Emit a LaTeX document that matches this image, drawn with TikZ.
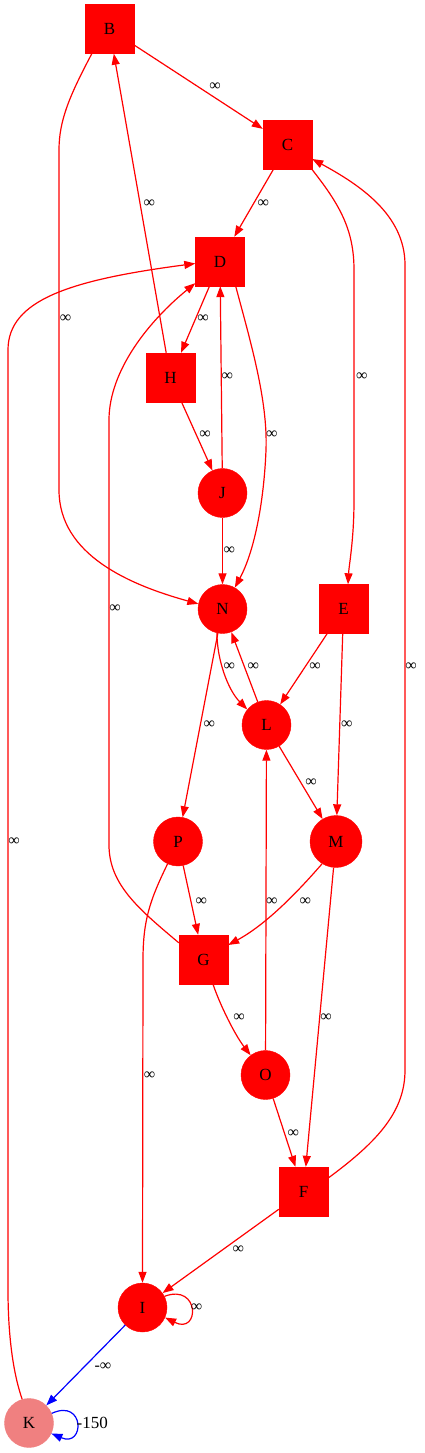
\documentclass[tikz,border=0pt]{standalone}
\usepackage{fontspec}
\setmainfont{Liberation Serif}
\usetikzlibrary{arrows.meta}
\definecolor{lcoral}{RGB}{240,128,128}
\begin{document}
\begin{tikzpicture}[x=1pt,y=-1pt,
  nfont/.style={font=\fontsize{17}{17}\selectfont},
  sq/.style={rectangle,draw=red,fill=red,minimum size=49pt,inner sep=0pt,nfont},
  circ/.style={circle,draw=red,fill=red,minimum size=49pt,inner sep=0pt,nfont},
  conn/.style={draw=red,line width=1.2pt,-{Triangle[length=11pt,width=8pt]}},
  bconn/.style={conn,draw=blue},
  lbl/.style={inner sep=0pt,font=\fontsize{16}{16}\selectfont}]
\useasboundingbox (0,0) rectangle (424,1453);

% nodes
\node[sq]   (B) at (109.5,29) {B};
\node[sq]   (C) at (287.5,145) {C};
\node[sq]   (D) at (220,261.5) {D};
\node[sq]   (H) at (170.5,377.5) {H};
\node[circ] (J) at (222.5,493) {J};
\node[circ] (N) at (222.5,609) {N};
\node[sq]   (E) at (343.5,609) {E};
\node[circ] (L) at (266.5,725) {L};
\node[circ] (P) at (178,841.5) {P};
\node[circ,minimum size=52pt] (M) at (336,841.5) {M};
\node[sq]   (G) at (203.5,959.5) {G};
\node[circ] (O) at (265.5,1075) {O};
\node[sq]   (F) at (303.5,1191.5) {F};
\node[circ] (I) at (142.5,1307.5) {I};
\node[circ,draw=lcoral,fill=lcoral] (K) at (29,1423) {K};

% straight connectors
\draw[conn] (B) -- (C);
\draw[conn] (H) -- (B);
\draw[conn] (C) -- (D);
\draw[conn] (D) -- (H);
\draw[conn] (J) -- (D);
\draw[conn] (H) -- (J);
\draw[conn] (J) -- (N);
\draw[conn] (L) -- (N);
\draw[conn] (E) -- (L);
\draw[conn] (E) -- (M);
\draw[conn] (N) -- (P);
\draw[conn] (L) -- (M);
\draw[conn] (P) -- (G);
\draw[conn] (O) -- (L);
\draw[conn] (M) -- (F);
\draw[conn] (O) -- (F);
\draw[conn] (F) -- (I);
\draw[bconn] (I) -- (K);

% curved connectors
\draw[conn] ([xshift=7pt]B.south west) .. controls (70,95) and (59,120) .. (59,150)
  -- (59,490) .. controls (59,555) and (130,585) .. (N.168);
\draw[conn] (C.south east) .. controls (340,205) and (354,230) .. (354,270)
  -- (354,500) .. controls (354,540) and (349,565) .. ([xshift=4.5pt]E.north);
\draw[conn] ([yshift=13.5pt]F.east) .. controls (380,1140) and (405,1110) .. (405,1070)
  -- (405,265) .. controls (405,215) and (360,185) .. ([yshift=-14pt]C.east);
\draw[conn] ([xshift=-9pt]D.south east) .. controls (250,340) and (268,400) .. (266,450)
  .. controls (264,500) and (255,550) .. (N.60);
\draw[conn] (K.106) .. controls (12,1370) and (8,1330) .. (8,1290)
  -- (8,350) .. controls (8,300) and (70,280) .. ([yshift=-2pt]D.west);
\draw[conn] ([yshift=-8pt]G.north west) .. controls (140,910) and (109,885) .. (109,845)
  -- (109,420) .. controls (109,370) and (150,320) .. ([yshift=3pt]D.south west);
\draw[conn] (N.-103) .. controls (217,660) and (228,690) .. (L.141);
\draw[conn] (M.-122) .. controls (295,895) and (265,925) .. ([yshift=14.5pt]G.east);
\draw[conn] (P.-115) .. controls (150,900) and (143,920) .. (143,960) -- (I.north);
\draw[conn] ([xshift=9.5pt]G.south) .. controls (220,1005) and (235,1035) .. (O.127);
\draw[conn] (I.27) .. controls (200,1283) and (200,1335) .. (I.-24);
\draw[bconn] (K.23) .. controls (85,1398) and (85,1448) .. (K.-25);

% labels
\node[lbl] (l1)  at (215,87) {∞};
\node[lbl] (l2)  at (149.3,203.3) {∞};
\node[lbl] (l3)  at (263.3,203.3) {∞};
\node[lbl] (l4)  at (65.5,319) {∞};
\node[lbl] (l5)  at (203,319) {∞};
\node[lbl] (l6)  at (227.3,377) {∞};
\node[lbl] (l7)  at (361.7,377) {∞};
\node[lbl] (l8)  at (205,435) {∞};
\node[lbl] (l9)  at (271.7,435) {∞};
\node[lbl] (l10) at (229.3,551) {∞};
\node[lbl] (l11) at (115,609) {∞};
\node[lbl] (l12) at (229.3,667) {∞};
\node[lbl] (l13) at (253.3,667) {∞};
\node[lbl] (l14) at (315,667) {∞};
\node[lbl] (l15) at (411,667) {∞};
\node[lbl] (l16) at (209.3,725) {∞};
\node[lbl] (l17) at (346.7,725) {∞};
\node[lbl] (l18) at (311,783) {∞};
\node[lbl] (l19) at (14,842) {∞};
\node[lbl] (l20) at (201.3,902) {∞};
\node[lbl] (l21) at (271.7,902) {∞};
\node[lbl] (l22) at (305.3,902) {∞};
\node[lbl] (l23) at (239,1018) {∞};
\node[lbl] (l24) at (326,1018) {∞};
\node[lbl] (l25) at (149.7,1076) {∞};
\node[lbl] (l26) at (293.3,1134) {∞};
\node[lbl] (l27) at (238.3,1250) {∞};
\node[lbl] (l28) at (196.7,1308) {∞};
\node[lbl] (l29) at (103,1366.7) {-∞};
\node[lbl,nfont,anchor=west] (l30) at (76.5,1423) {-150};
\end{tikzpicture}
\end{document}
